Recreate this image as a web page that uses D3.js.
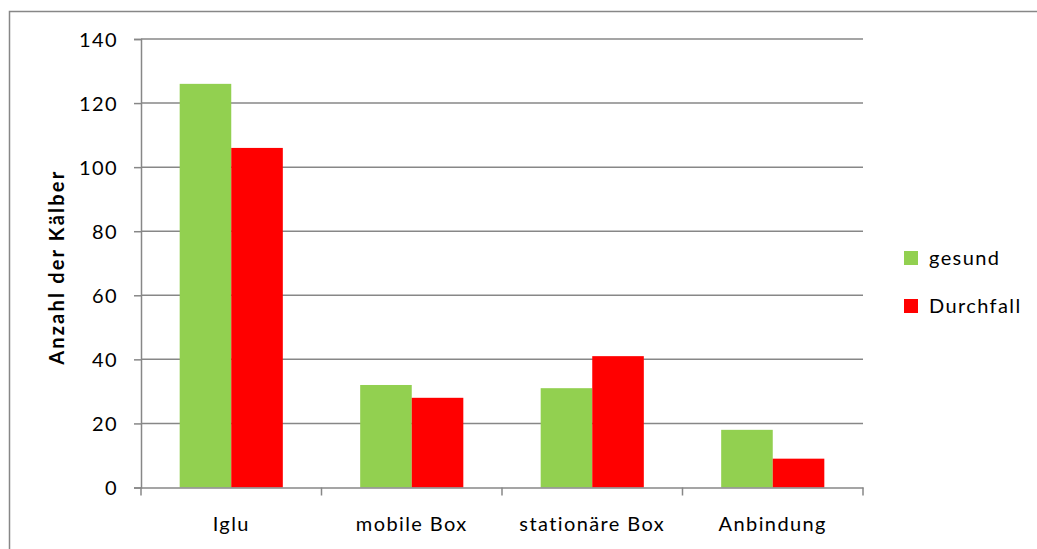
<!DOCTYPE html>
<html>
<head>
<meta charset="utf-8">
<script src="https://cdn.jsdelivr.net/npm/d3@7"></script>
<style>
  body { margin: 0; background: #fff; overflow: hidden; }
  text { font-family: Lato, "Open Sans", sans-serif; fill: #000; letter-spacing: 1.4px; }
</style>
</head>
<body>
<svg class="chart" width="1037" height="549"></svg>
<script>
var categories = ["Iglu", "mobile Box", "stationäre Box", "Anbindung"];
var seriesNames = ["gesund", "Durchfall"];
var gesund = [126, 32, 31, 18];
var durchfall = [106, 28, 41, 9];
var yTicks = [0, 20, 40, 60, 80, 100, 120, 140];
var colors = ["#92d050", "#ff0000"];

var margin = {top: 39, left: 141, right: 174, bottom: 61.5};

var svg = d3.select(".chart"),
    svgWidth = +svg.attr("width"),
    svgHeight = +svg.attr("height"),
    width = svgWidth - margin.left - margin.right,
    height = svgHeight - margin.top - margin.bottom;

// outer frame (right and bottom edges fall outside the picture)
svg.append("path")
  .attr("d", "M9.5," + svgHeight + "V11.5H" + svgWidth)
  .attr("fill", "none").attr("stroke", "#878787").attr("stroke-width", 1.5);

var chart = svg.append("g")
  .attr("transform", "translate(" + margin.left + "," + margin.top + ")");

var data = categories.map(function(c, i) {
  return {name: c, values: [gesund[i], durchfall[i]]};
});

var xScale = d3.scaleBand()
  .domain(categories)
  .range([0, width]);

var yScale = d3.scaleLinear()
  .domain([0, 140])
  .range([height, 0]);

// inner band: 2 bars with 150% gap width
var xInner = d3.scaleBand()
  .domain(d3.range(seriesNames.length))
  .range([0, xScale.bandwidth()])
  .paddingOuter(0.75)
  .paddingInner(0);

// gridlines
chart.append("g")
  .selectAll("line")
  .data(yTicks.slice(1))
  .enter().append("line")
  .attr("x1", 0).attr("x2", width)
  .attr("y1", function(d) { return yScale(d); })
  .attr("y2", function(d) { return yScale(d); })
  .attr("stroke", "#878787").attr("stroke-width", 1.5);

// bars
var group = chart.selectAll(".cat")
  .data(data)
  .enter().append("g")
  .attr("transform", function(d) { return "translate(" + xScale(d.name) + ",0)"; });

group.selectAll("rect")
  .data(function(d) { return d.values; })
  .enter().append("rect")
  .attr("x", function(d, i) { return xInner(i); })
  .attr("y", function(d) { return yScale(d); })
  .attr("width", xInner.bandwidth())
  .attr("height", function(d) { return height - yScale(d); })
  .attr("fill", function(d, i) { return colors[i]; });

// y axis
var yAxis = d3.axisLeft(yScale).tickValues(yTicks).tickSize(7).tickPadding(16);
var yg = chart.append("g").call(yAxis);
yg.select(".domain").attr("stroke", "#878787").attr("stroke-width", 1.5);
yg.selectAll(".tick line").attr("stroke", "#878787").attr("stroke-width", 1.5);
yg.selectAll(".tick text").style("font-size", "20px").attr("dy", "0.35em");

// x axis
var xAxis = d3.axisBottom(xScale).tickSize(0).tickPadding(29);
var xg = chart.append("g")
  .attr("transform", "translate(0," + height + ")")
  .call(xAxis);
xg.select(".domain").attr("stroke", "#878787").attr("stroke-width", 1.5);
xg.selectAll(".tick text").style("font-size", "20px");

// category boundary ticks
xg.selectAll(".sep")
  .data(d3.range(categories.length + 1))
  .enter().append("line")
  .attr("x1", function(i) { return i * xScale.step(); })
  .attr("x2", function(i) { return i * xScale.step(); })
  .attr("y1", 0).attr("y2", 8)
  .attr("stroke", "#878787").attr("stroke-width", 1.5);

// y title
svg.append("text")
  .attr("transform", "translate(64," + (margin.top + height / 2 + 4) + ") rotate(-90)")
  .attr("text-anchor", "middle")
  .style("font-size", "20px")
  .style("font-weight", "bold")
  .style("letter-spacing", "2.2px")
  .text("Anzahl  der Kälber");

// legend
var legend = svg.append("g")
  .attr("transform", "translate(904,251)");

var item = legend.selectAll("g")
  .data(seriesNames)
  .enter().append("g")
  .attr("transform", function(d, i) { return "translate(0," + i * 48 + ")"; });

item.append("rect")
  .attr("width", 14).attr("height", 14)
  .attr("fill", function(d, i) { return colors[i]; });

item.append("text")
  .attr("x", 25).attr("y", 7)
  .attr("dy", "0.35em")
  .style("font-size", "20px")
  .text(function(d) { return d; });
</script>
</body>
</html>
